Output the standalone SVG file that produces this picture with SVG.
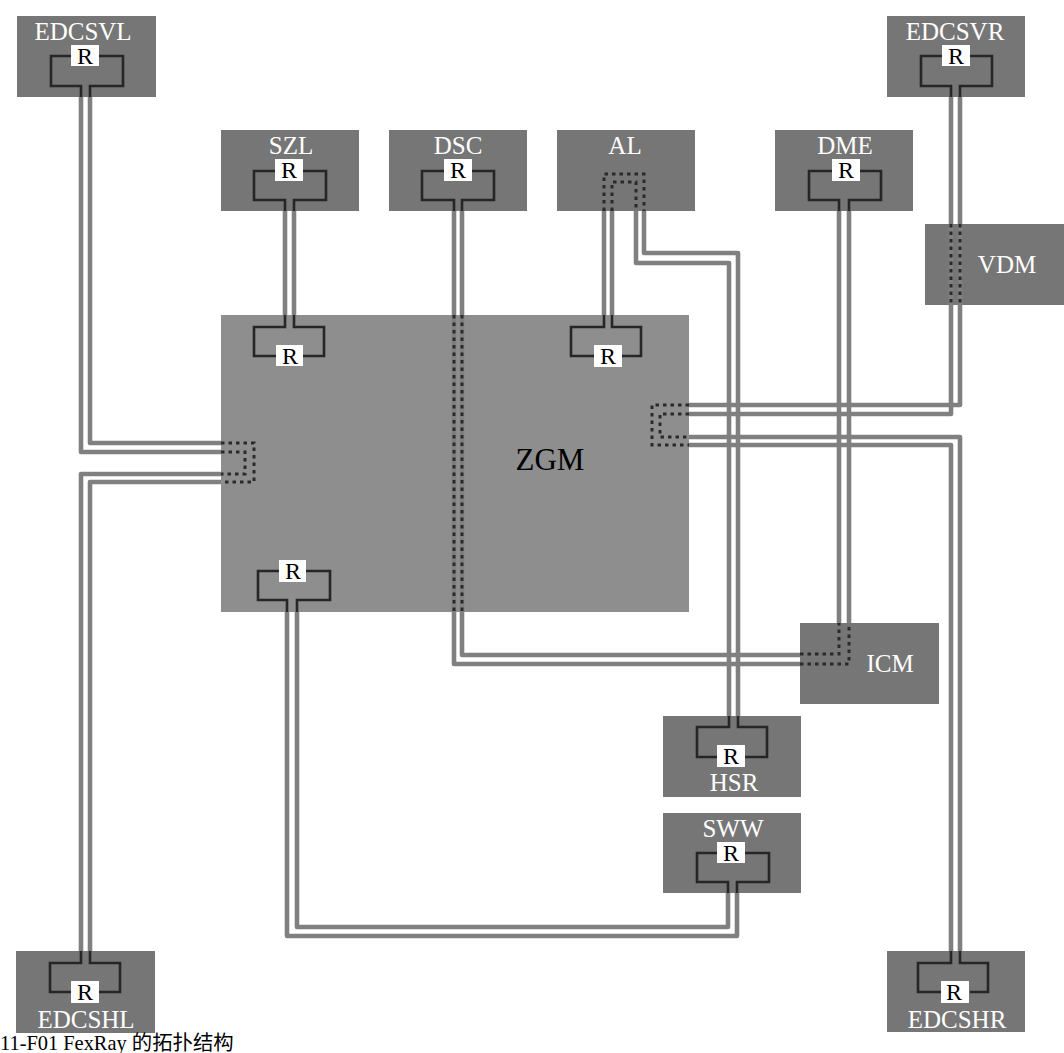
<svg xmlns="http://www.w3.org/2000/svg" width="1064" height="1053" viewBox="0 0 1064 1053">
<style>
.box{fill:#767676}
.zgm{fill:#8e8e8e}
.w{fill:none;stroke:#808080;stroke-width:4.6;stroke-linejoin:round}
.k{fill:none;stroke:#262626;stroke-width:2.6;stroke-linejoin:miter}
.d{fill:none;stroke:#2a2a2a;stroke-width:3;stroke-dasharray:3.5 4}
.rb{fill:#fff}
text{font-family:"Liberation Serif","Times New Roman",serif}
.l{fill:#fff;font-size:25px;text-anchor:middle}
.r{fill:#000;font-size:24px;text-anchor:middle}
.z{fill:#000;font-size:31px;text-anchor:middle}
.cap{fill:#000;font-size:20.4px;font-family:"Liberation Serif","Noto Sans CJK SC",serif}
</style>
<rect width="1064" height="1053" fill="#fff"/>
<g id="ZGM"><rect class="zgm" x="221" y="315" width="468" height="297"/><text class="z" x="550" y="470">ZGM</text></g>
<g id="EDCSVL"><rect class="box" x="17" y="16" width="139" height="81"/></g>
<g id="SZL"><rect class="box" x="221" y="130" width="138" height="81"/></g>
<g id="DSC"><rect class="box" x="389" y="130" width="138" height="81"/></g>
<g id="AL"><rect class="box" x="557" y="130" width="138" height="81"/></g>
<g id="DME"><rect class="box" x="775" y="130" width="138" height="81"/></g>
<g id="EDCSVR"><rect class="box" x="887" y="16" width="138" height="81"/></g>
<g id="VDM"><rect class="box" x="925" y="224" width="139" height="81"/></g>
<g id="ICM"><rect class="box" x="800" y="623" width="139" height="81"/></g>
<g id="HSR"><rect class="box" x="663" y="716" width="138" height="81"/></g>
<g id="SWW"><rect class="box" x="663" y="813" width="138" height="80"/></g>
<g id="EDCSHL"><rect class="box" x="16" y="951" width="139" height="82"/></g>
<g id="EDCSHR"><rect class="box" x="887" y="951" width="138" height="81"/></g>
<g id="connectors">
<path class="w" d="M81 97V452H221M90 97V443H221"/>
<path class="w" d="M81 951V474H221M90 951V482H221"/>
<path class="w" d="M285 211V315M294 211V315"/>
<path class="w" d="M454 211V664H800M462 211V655H800"/>
<path class="w" d="M604 211V315M612 211V315"/>
<path class="w" d="M636 211V263H729V716M644 211V253H738V716"/>
<path class="w" d="M839 211V623M849 211V623"/>
<path class="w" d="M951 97V414H689M960 97V405H689"/>
<path class="w" d="M960 951V437H689M951 951V445H689"/>
<path class="w" d="M287 612V936H737V893M297 612V927H728V893"/>
<path class="d" d="M221 443H254V482H221M221 452H245V474H221"/>
<path class="d" d="M689 405H652V445H689M689 414H660V437H689"/>
<path class="d" d="M604 211V174H644V211M612 211V182H636V211"/>
<path class="d" d="M454 315V612M462 315V612"/>
<path class="d" d="M800 654H839V623M800 664H849V623"/>
<path class="d" d="M951 224V305M960 224V305"/>
<path class="k" d="M81 97V86H51V56H71M90 97V86H123V56H99"/>
<path class="k" d="M285 211V200H254V171H275M294 211V200H326V171H303"/>
<path class="k" d="M454 211V200H422V171H444M462 211V200H494V171H472"/>
<path class="k" d="M839 211V200H809V171H832M849 211V200H881V171H860"/>
<path class="k" d="M951 97V86H921V56H943M960 97V86H992V56H970"/>
<path class="k" d="M285 315V327H254V356H276M294 315V327H324V356H303"/>
<path class="k" d="M604 315V327H571V356H594M612 315V327H641V356H622"/>
<path class="k" d="M287 612V600H258V571H279M297 612V600H330V571H306"/>
<path class="k" d="M729 716V727H697V757H717M738 716V727H767V757H745"/>
<path class="k" d="M728 893V882H697V853H717M737 893V882H769V853H745"/>
<path class="k" d="M81 951V963H50V992H71M90 951V963H120V992H99"/>
<path class="k" d="M951 951V963H918V992H942M960 951V963H988V992H970"/>
</g>
<g id="labels">
<rect class="rb" x="71" y="45" width="28" height="21"/><text class="r" x="85" y="64">R</text>
<rect class="rb" x="275" y="159" width="28" height="22"/><text class="r" x="289" y="178">R</text>
<rect class="rb" x="444" y="159" width="28" height="22"/><text class="r" x="458" y="178">R</text>
<rect class="rb" x="832" y="159" width="28" height="22"/><text class="r" x="846" y="178">R</text>
<rect class="rb" x="942" y="45" width="28" height="21"/><text class="r" x="956" y="64">R</text>
<rect class="rb" x="276" y="345" width="27" height="21"/><text class="r" x="290" y="364">R</text>
<rect class="rb" x="594" y="345" width="28" height="22"/><text class="r" x="608" y="364">R</text>
<rect class="rb" x="279" y="560" width="27" height="22"/><text class="r" x="293" y="579">R</text>
<rect class="rb" x="717" y="745" width="28" height="22"/><text class="r" x="731" y="764">R</text>
<rect class="rb" x="717" y="842" width="28" height="21"/><text class="r" x="731" y="861">R</text>
<rect class="rb" x="71" y="981" width="28" height="22"/><text class="r" x="85" y="1000">R</text>
<rect class="rb" x="941" y="981" width="28" height="22"/><text class="r" x="954" y="1000">R</text>
<text class="l" x="83" y="40">EDCSVL</text>
<text class="l" x="291" y="154">SZL</text>
<text class="l" x="458" y="154">DSC</text>
<text class="l" x="625" y="154">AL</text>
<text class="l" x="845" y="154">DME</text>
<text class="l" x="955" y="40">EDCSVR</text>
<text class="l" x="1007" y="273">VDM</text>
<text class="l" x="890" y="672">ICM</text>
<text class="l" x="734" y="791">HSR</text>
<text class="l" x="733" y="837">SWW</text>
<text class="l" x="86" y="1028">EDCSHL</text>
<text class="l" x="957" y="1028">EDCSHR</text>
<text class="cap" x="0" y="1050">11-F01 FexRay 的拓扑结构</text>
</g>
</svg>
